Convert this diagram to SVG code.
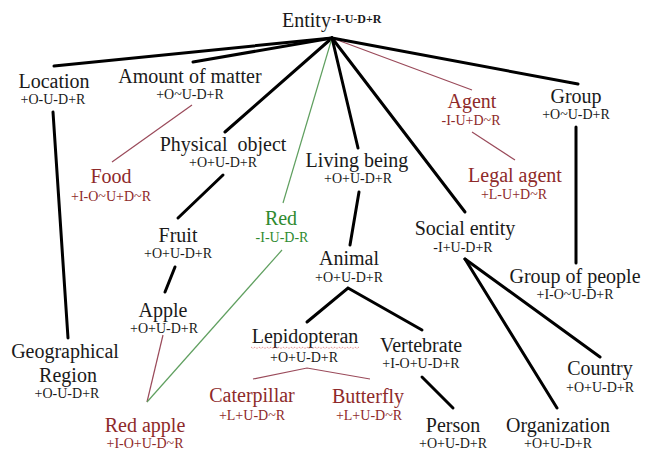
<svg xmlns="http://www.w3.org/2000/svg" width="645" height="451" viewBox="0 0 645 451" font-family="'Liberation Serif', 'Times New Roman', serif">
<style>
text{font-family:'Liberation Serif','Times New Roman',serif;text-anchor:middle;fill:#1a1a1a}
.n{font-size:20px}
.s{font-size:14px}
.br{fill:#8e2a2a}
.gr{fill:#2f8a2f}
.sup{font-size:12px;font-weight:bold;text-anchor:start}
.k{stroke:#000;stroke-width:3;fill:none;stroke-linecap:round}
.b{stroke:#9a4a5a;stroke-width:1.2;fill:none}
.g{stroke:#5f9f5f;stroke-width:1.2;fill:none}
</style>
<rect width="645" height="451" fill="#fff"/>
<g id="connectors">
<line class="k" x1="332" y1="38" x2="54" y2="66"/>
<line class="k" x1="332" y1="38" x2="193" y2="62"/>
<line class="k" x1="332" y1="38" x2="225" y2="132"/>
<line class="g" x1="332" y1="38" x2="283" y2="203"/>
<line class="k" x1="332" y1="38" x2="358" y2="148"/>
<line class="k" x1="332" y1="38" x2="465" y2="212"/>
<line class="b" x1="332" y1="38" x2="472" y2="90"/>
<line class="k" x1="332" y1="38" x2="578" y2="84"/>
<line class="k" x1="53" y1="112" x2="68" y2="338"/>
<line class="b" x1="192" y1="105" x2="112" y2="162"/>
<line class="k" x1="223" y1="175" x2="178" y2="218"/>
<line class="k" x1="175" y1="267" x2="165" y2="292"/>
<line class="b" x1="163" y1="335" x2="147" y2="402"/>
<line class="g" x1="282" y1="250" x2="147" y2="402"/>
<line class="k" x1="359" y1="192" x2="350" y2="245"/>
<polyline class="k" points="307,322 348,288 422,330"/>
<polyline class="b" points="253,379 307,368 370,379"/>
<line class="k" x1="422" y1="377" x2="453" y2="408"/>
<line class="k" x1="465" y1="259" x2="600" y2="357"/>
<line class="k" x1="465" y1="259" x2="557" y2="408"/>
<line class="k" x1="576" y1="127" x2="576" y2="263"/>
<line class="b" x1="472" y1="132" x2="515" y2="160"/>
</g>
<g id="entity"><text class="n" x="282" y="27" style="text-anchor:start">Entity</text><text class="sup" x="332" y="23">-I-U-D+R</text></g>
<g id="location"><text class="n" x="54" y="88">Location</text><text class="s" x="53" y="104">+O-U-D+R</text></g>
<g id="amount"><text class="n" x="190" y="83">Amount of matter</text><text class="s" x="190" y="99">+O~U-D+R</text></g>
<g id="food"><text class="n br" x="111" y="183">Food</text><text class="s br" x="111" y="201">+I-O~U+D~R</text></g>
<g id="physical"><text class="n" x="223" y="151" xml:space="preserve">Physical  object</text><text class="s" x="223" y="167">+O+U-D+R</text></g>
<g id="fruit"><text class="n" x="178" y="242">Fruit</text><text class="s" x="178" y="258">+O+U-D+R</text></g>
<g id="apple"><text class="n" x="163" y="317">Apple</text><text class="s" x="164" y="333">+O+U-D+R</text></g>
<g id="redapple"><text class="n br" x="145" y="432">Red apple</text><text class="s br" x="145" y="448">+I-O+U-D~R</text></g>
<g id="geo"><text class="n" x="65" y="358">Geographical</text><text class="n" x="68" y="382">Region</text><text class="s" x="67" y="398">+O-U-D+R</text></g>
<g id="red"><text class="n gr" x="281" y="225">Red</text><text class="s gr" x="282" y="242">-I-U-D-R</text></g>
<g id="living"><text class="n" x="357" y="167">Living being</text><text class="s" x="358" y="183">+O+U-D+R</text></g>
<g id="animal"><text class="n" x="349" y="265">Animal</text><text class="s" x="349" y="282">+O+U-D+R</text></g>
<g id="lepidopteran"><text class="n" x="305" y="343">Lepidopteran</text><path d="M251,347 l2,1.5 2,-1.5 2,1.5 2,-1.5 2,1.5 2,-1.5 2,1.5 2,-1.5 2,1.5 2,-1.5 2,1.5 2,-1.5 2,1.5 2,-1.5 2,1.5 2,-1.5 2,1.5 2,-1.5 2,1.5 2,-1.5 2,1.5 2,-1.5 2,1.5 2,-1.5 2,1.5 2,-1.5 2,1.5 2,-1.5 2,1.5 2,-1.5 2,1.5 2,-1.5 2,1.5 2,-1.5 2,1.5 2,-1.5 2,1.5 2,-1.5 2,1.5 2,-1.5 2,1.5 2,-1.5 2,1.5 2,-1.5 2,1.5 2,-1.5 2,1.5 2,-1.5 2,1.5 2,-1.5 2,1.5 2,-1.5 2,1.5 2,-1.5" fill="none" stroke="#d04040" stroke-width="0.7" stroke-dasharray="1 1"/><text class="s" x="304" y="362">+O+U-D+R</text></g>
<g id="caterpillar"><text class="n br" x="252" y="402">Caterpillar</text><text class="s br" x="252" y="420">+L+U-D~R</text></g>
<g id="butterfly"><text class="n br" x="368" y="403">Butterfly</text><text class="s br" x="369" y="420">+L+U-D~R</text></g>
<g id="vertebrate"><text class="n" x="421" y="352">Vertebrate</text><text class="s" x="421" y="368">+I-O+U-D+R</text></g>
<g id="person"><text class="n" x="453" y="432">Person</text><text class="s" x="453" y="448">+O+U-D+R</text></g>
<g id="social"><text class="n" x="465" y="235">Social entity</text><text class="s" x="463" y="252">-I+U-D+R</text></g>
<g id="country"><text class="n" x="600" y="375">Country</text><text class="s" x="600" y="392">+O+U-D+R</text></g>
<g id="organization"><text class="n" x="558" y="432">Organization</text><text class="s" x="558" y="448">+O+U-D+R</text></g>
<g id="groupofpeople"><text class="n" x="575" y="283">Group of people</text><text class="s" x="575" y="299">+I-O~U-D+R</text></g>
<g id="group"><text class="n" x="576" y="103">Group</text><text class="s" x="576" y="119">+O~U-D+R</text></g>
<g id="agent"><text class="n br" x="472" y="108">Agent</text><text class="s br" x="471" y="125">-I-U+D~R</text></g>
<g id="legalagent"><text class="n br" x="515" y="182">Legal agent</text><text class="s br" x="514" y="199">+L-U+D~R</text></g>
</svg>
